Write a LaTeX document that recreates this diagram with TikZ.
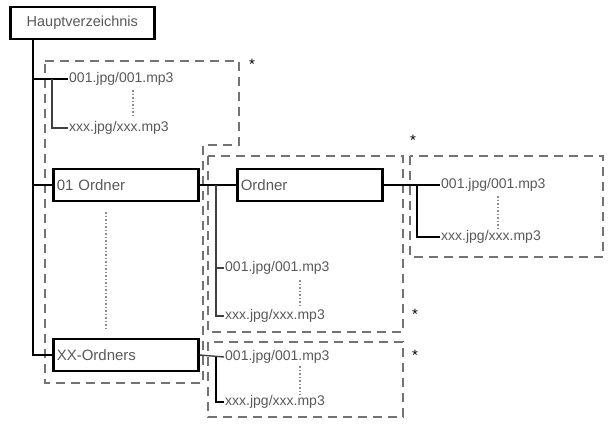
\documentclass[tikz,border=0pt]{standalone}
\usepackage{fontspec}
\setmainfont{Liberation Sans}
\begin{document}
\begin{tikzpicture}[x=1pt,y=-1pt,
 box/.style={draw=black,line width=2.6pt,fill=white,minimum height=32pt,minimum width=145pt,inner sep=0pt,text=black!65,font=\fontsize{15}{16}\selectfont},
 txt/.style={anchor=west,inner sep=1pt,text=black!65,font=\fontsize{14}{15}\selectfont},
 ln/.style={line width=2.6pt,black},
 thin/.style={line width=1.4pt,black!75},
 dsh/.style={draw=black!55,line width=2.4pt,dash pattern=on 9pt off 6pt},
 dot/.style={draw=black!45,line width=1.5pt,dotted},
 star/.style={font=\fontsize{15}{15}\selectfont}]
\useasboundingbox (0,0) rectangle (610,428);
% dashed groups
\draw[dsh] (45,61) -- (239,61) -- (239,145) -- (203,145) -- (203,383) -- (45,383) -- cycle;
\draw[dsh] (208,156) rectangle (403,332);
\draw[dsh] (410,156) rectangle (603,257);
\draw[dsh] (208,342) rectangle (403,417);
\node[star] at (252,64) {*};
\node[star] at (413,140) {*};
\node[star] at (415,314) {*};
\node[star] at (415,355) {*};
% nodes
\node[box,minimum width=144pt,anchor=west,inner sep=1pt,font=\fontsize{14.5}{15}\selectfont] (root) at (9,23) {Hauptverzeichnis};
\node[box,anchor=west,text width=138pt,align=left] (o1) at (52,185) {01 Ordner};
\node[box,anchor=west,text width=138pt,align=left] (ox) at (52,355) {XX-Ordners};
\node[box,anchor=west,text width=138pt,align=left] (o2) at (236,185) {Ordner};
\node[txt] (a1) at (68,79) {001.jpg/001.mp3};
\node[txt] (a2) at (68,128) {xxx.jpg/xxx.mp3};
\node[txt] (b1) at (224,268) {001.jpg/001.mp3};
\node[txt] (b2) at (224,316) {xxx.jpg/xxx.mp3};
\node[txt] (c1) at (440,185) {001.jpg/001.mp3};
\node[txt] (c2) at (440,237) {xxx.jpg/xxx.mp3};
\node[txt] (d1) at (224,357) {001.jpg/001.mp3};
\node[txt] (d2) at (224,402) {xxx.jpg/xxx.mp3};
\coordinate (m1) at (33,79);
\coordinate (m2) at (33,185);
\coordinate (m3) at (33,355);
% main trunk
\draw[ln] (root.south -| m1) -- (m3) -- (ox.west);
\draw[ln] (m2) -- (o1.west);
\draw[ln] (m1) -- (a1.west);
\draw[thin] (52,79) |- (a2.west);
\draw[dot] (133,90) -- (133,118);
\draw[dot] (106,212) -- (106,328);
% 01 Ordner
\draw[ln] (o1.east) -- (o2.west);
\draw[thin] (216,185) |- (b2.west);
\draw[thin] (216,268) -- (b1.west);
\draw[dot] (300,280) -- (300,305);
% Ordner
\draw[ln] (o2.east) -- (c1.west);
\draw[ln] (417,185) |- (c2.west);
\draw[dot] (498,196) -- (498,228);
% XX
\draw[thin] (ox.east) -- (d1.west);
\draw[ln] (216,357) |- (d2.west);
\draw[dot] (300,366) -- (300,395);
\end{tikzpicture}
\end{document}
